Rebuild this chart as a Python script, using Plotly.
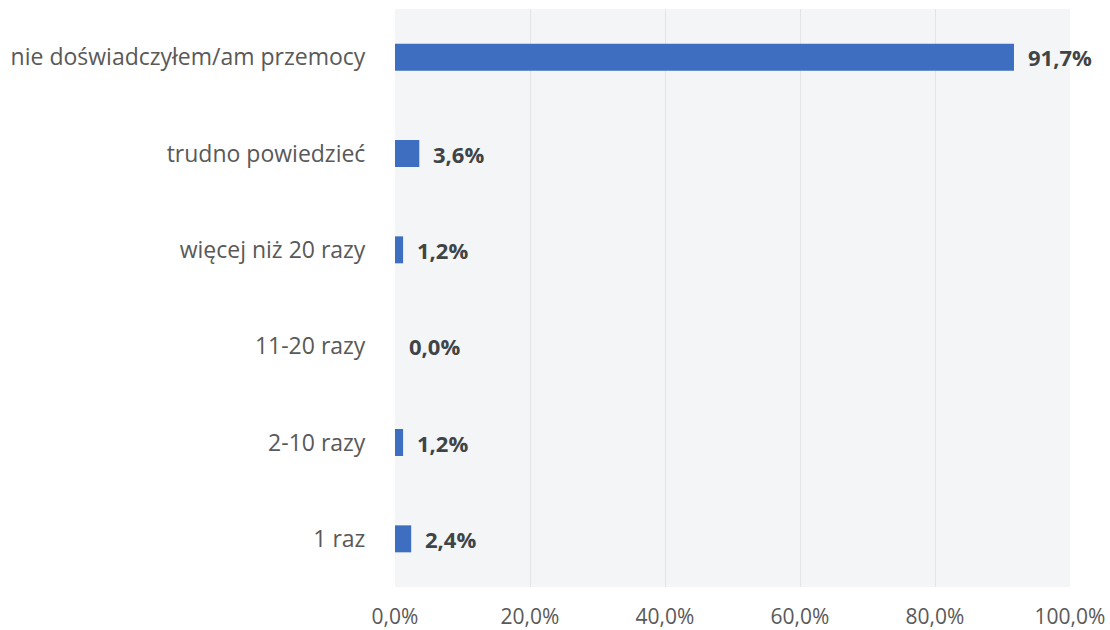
import plotly.graph_objects as go

categories = ["1 raz", "2-10 razy", "11-20 razy", "więcej niż 20 razy",
              "trudno powiedzieć", "nie doświadczyłem/am przemocy"]
values = [2.4, 1.2, 0.0, 1.2, 3.6, 91.7]
x_ticks = [0, 20, 40, 60, 80, 100]
x_tick_labels = ["0,0%", "20,0%", "40,0%", "60,0%", "80,0%", "100,0%"]

fig = go.Figure()
fig.add_trace(go.Bar(
    x=values, y=categories, orientation="h",
    marker=dict(color="#3D6EC0", line=dict(width=0)),
    width=0.28,
    hoverinfo="skip",
))

for c, v in zip(categories, values):
    fig.add_annotation(
        x=v, y=c, xref="x", yref="y",
        text="<b>" + f"{v:.1f}".replace(".", ",") + "%</b>",
        showarrow=False, xanchor="left", xshift=12,
        font=dict(family="Open Sans", size=22, color="#3f4447"),
    )

fig.update_layout(
    width=1110, height=630,
    margin=dict(l=395, r=40, t=9, b=43),
    paper_bgcolor="white",
    plot_bgcolor="#f4f5f6",
    separators=", ",
    showlegend=False,
    font=dict(family="Open Sans", size=20, color="#595959"),
)
fig.update_xaxes(
    range=[0, 100], tickvals=x_ticks, ticktext=x_tick_labels,
    showgrid=True, gridcolor="#e2e4e6", gridwidth=1,
    zeroline=False, showline=False, automargin=False,
    ticks="outside", ticklen=11, tickcolor="rgba(0,0,0,0)",
    tickfont=dict(family="Open Sans", size=21, color="#595959"),
)
fig.update_yaxes(
    categoryorder="array", categoryarray=categories,
    showgrid=False, zeroline=False, showline=False, automargin=False,
    ticks="outside", ticklen=24, tickcolor="rgba(0,0,0,0)",
    tickfont=dict(family="Open Sans", size=23, color="#595959"),
)

fig.write_html("out.html", config={"displayModeBar": False},
               post_script="document.body.style.margin='0';document.body.style.overflow='hidden';")
